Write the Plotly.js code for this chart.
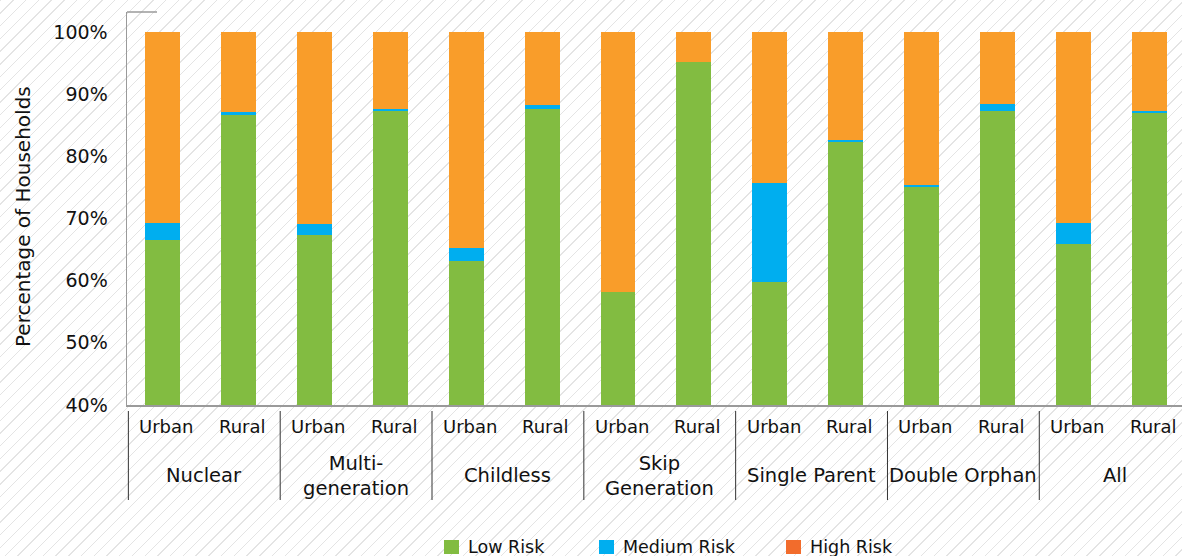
<!DOCTYPE html>
<html>
<head>
<meta charset="utf-8">
<script src="https://cdn.plot.ly/plotly-3.0.1.min.js"></script>
<style>
  html, body { margin: 0; padding: 0; }
  body {
    width: 1182px; height: 556px; overflow: hidden;
    background: repeating-linear-gradient(135deg, #e4e4e4 0px, #e4e4e4 1px, #ffffff 1px, #ffffff 9px);
  }
  #chart { width: 1182px; height: 556px; }
</style>
</head>
<body>
<div id="chart"></div>
<script>
// ---- data (percent of households) ----
const groups = ['Nuclear', 'Multi-<br>generation', 'Childless', 'Skip<br>Generation', 'Single Parent', 'Double Orphan', 'All'];
const areas = ['Urban', 'Rural'];
const lowRisk    = [66.6, 86.7, 67.3, 87.3, 63.2, 87.6, 58.2, 95.1, 59.8, 82.3, 75.1, 87.3, 65.9, 87.0];
const mediumRisk = [2.7, 0.45, 1.8, 0.3, 2.1, 0.65, 0.0, 0.0, 15.9, 0.3, 0.2, 1.1, 3.4, 0.3];
const highRisk   = [30.7, 12.85, 30.9, 12.4, 34.7, 11.75, 41.8, 4.9, 24.3, 17.4, 24.7, 11.6, 30.7, 12.7];
const seriesNames = ['Low Risk', 'Medium Risk', 'High Risk'];
const yTitle = 'Percentage of Households';
const yTickVals = [40, 50, 60, 70, 80, 90, 100];
const yTickText = ['40%', '50%', '60%', '70%', '80%', '90%', '100%'];

// ---- styles ----
const barColors = ['#82bc41', '#00aeef', '#f99d2a'];
const legendColors = ['#82bc41', '#00aeef', '#f26c2c'];
const FONT = 'DejaVu Sans, Liberation Sans, sans-serif';
const TXT = '#111111';
const AXIS = '#9a9a9a';

const xIdx = lowRisk.map((_, i) => i);
const seriesVals = [lowRisk, mediumRisk, highRisk];

const traces = seriesVals.map((vals, s) => ({
  type: 'bar',
  x: xIdx,
  y: vals,
  name: seriesNames[s],
  marker: { color: barColors[s], line: { width: 0 } },
  showlegend: false,
  hovertemplate: seriesNames[s] + ': %{y:.1f}%<extra></extra>'
}));

// pixel-to-paper helpers for plot area (l=127, t=12, w=1055, h=393)
const PL = 127, PT = 12, PW = 1055, PH = 393;
const px = p => (p - PL) / PW;
const py = p => (PT + PH - p) / PH;

const annotations = [];
const shapes = [];
const shift = 0.05;

// y axis title
annotations.push({
  xref: 'paper', yref: 'paper', x: px(23), y: py(217),
  text: yTitle, textangle: -90, showarrow: false, xanchor: 'center', yanchor: 'middle',
  font: { family: FONT, size: 20, color: TXT }
});

// Urban / Rural labels
xIdx.forEach(i => {
  annotations.push({
    xref: 'x', yref: 'paper', x: i + shift, y: py(426),
    text: areas[i % 2], showarrow: false, xanchor: 'center', yanchor: 'middle',
    font: { family: FONT, size: 18, color: TXT }
  });
});
// group labels and dividers
groups.forEach((g, k) => {
  annotations.push({
    xref: 'x', yref: 'paper', x: 2 * k + 0.5 + shift, y: py(476),
    text: g, showarrow: false, xanchor: 'center', yanchor: 'middle',
    font: { family: FONT, size: 19.5, color: TXT }
  });
  shapes.push({
    type: 'line', xref: 'x', yref: 'paper',
    x0: 2 * k - 0.5 + shift, x1: 2 * k - 0.5 + shift, y0: py(411), y1: py(500),
    line: { color: '#333333', width: 1 }
  });
});
// top small tick on y axis frame
shapes.push({
  type: 'line', xref: 'paper', yref: 'paper', x0: px(127), x1: px(157), y0: 1, y1: 1,
  line: { color: AXIS, width: 1.5 }
});

// manual legend
const legSwatchX = [444, 599, 786];
seriesNames.forEach((nm, s) => {
  shapes.push({
    type: 'rect', xref: 'paper', yref: 'paper',
    x0: px(legSwatchX[s]), x1: px(legSwatchX[s] + 15), y0: py(554), y1: py(540),
    fillcolor: legendColors[s], line: { width: 0 }
  });
  annotations.push({
    xref: 'paper', yref: 'paper', x: px(legSwatchX[s] + 22), y: py(547),
    text: nm, showarrow: false, xanchor: 'left', yanchor: 'middle',
    font: { family: FONT, size: 17.5, color: TXT }
  });
});

const layout = {
  width: 1182, height: 556,
  margin: { l: PL, r: 0, t: PT, b: 556 - PT - PH, pad: 0 },
  paper_bgcolor: 'rgba(0,0,0,0)',
  plot_bgcolor: 'rgba(0,0,0,0)',
  barmode: 'stack',
  bargap: 0.54,
  showlegend: false,
  font: { family: FONT, size: 18, color: TXT },
  xaxis: {
    range: [-0.468, 13.43],
    showticklabels: false, ticks: '', showgrid: false, zeroline: false,
    showline: true, linecolor: AXIS, linewidth: 1.5, fixedrange: true
  },
  yaxis: {
    range: [40, 103.2],
    tickvals: yTickVals, ticktext: yTickText,
    tickfont: { family: FONT, size: 19, color: TXT },
    ticks: 'outside', ticklen: 14, tickcolor: 'rgba(0,0,0,0)',
    showgrid: false, zeroline: false,
    showline: true, linecolor: AXIS, linewidth: 1.5,
    automargin: false, fixedrange: true
  },
  annotations: annotations,
  shapes: shapes
};

Plotly.newPlot('chart', traces, layout, { displayModeBar: false, staticPlot: true });
</script>
</body>
</html>
